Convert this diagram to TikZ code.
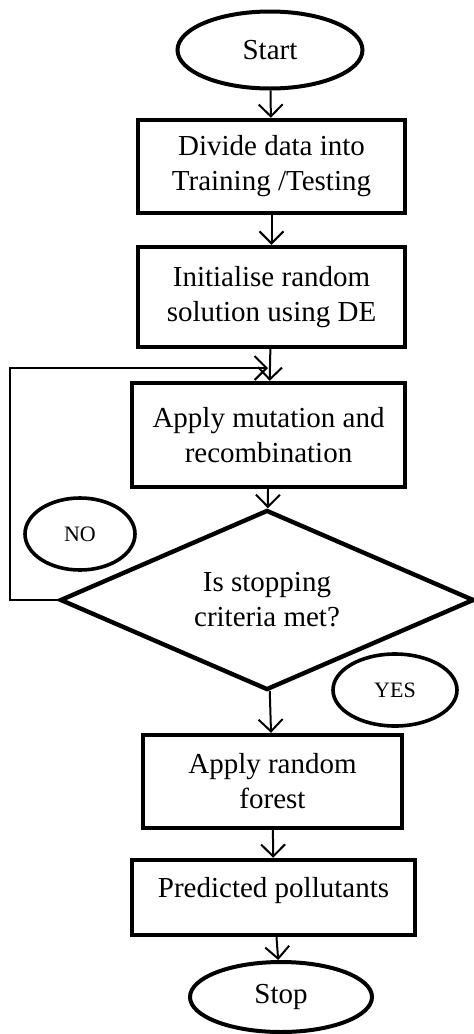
\documentclass[tikz,border=0pt]{standalone}
\usepackage{fontspec}
\setmainfont{Liberation Serif}
\usetikzlibrary{shapes.geometric, arrows.meta}

\begin{document}
\begin{tikzpicture}[x=0.5pt, y=-0.5pt,
      every node/.style={font=\fontsize{14.5}{17.5}\selectfont},
      procbox/.style={draw, line width=2.2pt, rectangle, align=center, inner sep=0pt},
      termelps/.style={draw, line width=2pt, ellipse, inner sep=0pt},
      tagelps/.style={draw, line width=1.8pt, ellipse, inner sep=0pt,
                      font=\fontsize{11}{13}\selectfont},
      arr/.style={line width=1pt, -{Straight Barb[length=6pt, width=12pt, line width=1pt]}}]
    \useasboundingbox (0,0) rectangle (474,1034);
    \fill[white] (0,0) rectangle (474,1034);
    \node[termelps, minimum width=92.5pt, minimum height=38.5pt] (start) at (270,50) {Start};
    \node[procbox, minimum width=133.5pt, minimum height=46.5pt] (divide) at (271.5,166.5)
          {Divide data into\\Training /Testing};
    \node[procbox, minimum width=133.5pt, minimum height=50pt] (init) at (271.5,297)
          {Initialise random\\solution using DE};
    \node[procbox, minimum width=136.5pt, minimum height=52pt] (mutate) at (268.5,435)
          {Apply mutation and\\recombination};
    \node[draw, line width=2.2pt, diamond, aspect=2.3, inner sep=0pt, align=center,
          minimum width=207pt, minimum height=90pt] (check) at (267,600)
          {Is stopping\\criteria met?};
    \node[tagelps, minimum width=55pt, minimum height=36pt] (no) at (80,534) {NO};
    \node[tagelps, minimum width=62pt, minimum height=36pt] (yes) at (395,690) {YES};
    \node[procbox, minimum width=129.5pt, minimum height=46.5pt] (forest) at (272.5,781.5)
          {Apply random\\forest};
    \node[procbox, minimum width=141.5pt, minimum height=37.5pt,
          label={[yshift=3.5pt]center:Predicted pollutants}] (predict) at (273.5,897.5) {};
    \node[termelps, minimum width=91pt, minimum height=35pt] (stop) at (281,997) {Stop};
    % connectors
    \coordinate (loopend) at (268,368);
    \draw[arr] (start) -- (divide);
    \draw[arr] (divide) -- (init);
    \draw[arr] (init) -- (mutate);
    \draw[arr] (mutate) -- (check);
    \draw[arr] (check.west) -- ++(-48,0) |- (loopend);
    \draw[arr] (check) -- (forest);
    \draw[arr] (forest) -- (predict);
    \draw[arr] (predict) -- (stop);
  \end{tikzpicture}
\end{document}
